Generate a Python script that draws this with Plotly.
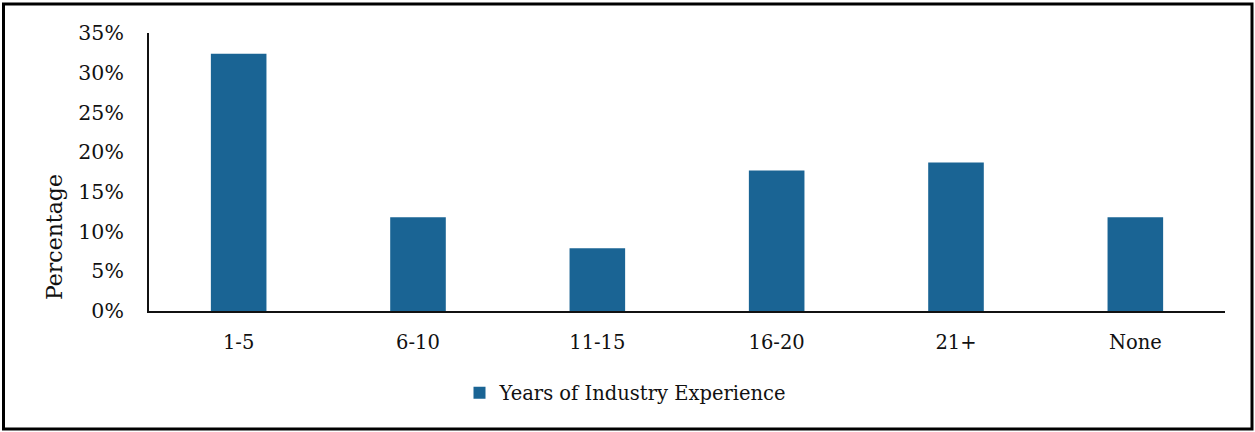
import plotly.graph_objects as go

# Share of respondents by years of industry experience
categories = ["1-5", "6-10", "11-15", "16-20", "21+", "None"]
percentages = [0.324, 0.118, 0.079, 0.177, 0.187, 0.118]
series_name = "Years of Industry Experience"
y_tickvals = [0, 0.05, 0.10, 0.15, 0.20, 0.25, 0.30, 0.35]

W, H = 1255, 432
ML, MR, MT, MB = 149, 30, 33, 121
PW, PH = W - ML - MR, H - MT - MB

FONT = "DejaVu Serif"
BAR = "#1a6494"
INK = "#111111"

fig = go.Figure(
    go.Bar(
        x=categories,
        y=percentages,
        name=series_name,
        marker=dict(color=BAR, line=dict(width=0)),
        showlegend=True,
    )
)


def px_x(p):
    return (p - ML) / PW


def px_y(p):
    return (H - MB - p) / PH


fig.update_layout(
    width=W,
    height=H,
    margin=dict(l=ML, r=MR, t=MT, b=MB),
    paper_bgcolor="white",
    plot_bgcolor="white",
    bargap=0.69,
    font=dict(family=FONT, size=19, color=INK),
    showlegend=True,
    legend=dict(
        orientation="h",
        x=px_x(626),
        xanchor="center",
        y=px_y(393),
        yanchor="middle",
        font=dict(family=FONT, size=19.5, color=INK),
        itemwidth=30,
    ),
    xaxis=dict(
        showline=True,
        linecolor=INK,
        linewidth=2,
        ticks="",
        showgrid=False,
        tickfont=dict(family=FONT, size=19.5, color=INK),
        ticklabelstandoff=13,
    ),
    yaxis=dict(
        range=[0, 0.35],
        tickvals=y_tickvals,
        tickformat=".0%",
        showline=True,
        linecolor=INK,
        linewidth=2,
        ticks="",
        showgrid=False,
        zeroline=False,
        tickfont=dict(family=FONT, size=20.5, color=INK),
        ticklabelstandoff=19,
    ),
    annotations=[
        dict(
            text="Percentage",
            xref="paper",
            yref="paper",
            x=px_x(54),
            y=px_y(237),
            xanchor="center",
            yanchor="middle",
            textangle=-90,
            showarrow=False,
            font=dict(family=FONT, size=22, color=INK),
        )
    ],
    shapes=[
        dict(
            type="rect",
            xref="paper",
            yref="paper",
            x0=px_x(3.5),
            x1=px_x(1252),
            y0=px_y(429),
            y1=px_y(4),
            line=dict(color="black", width=3),
            layer="above",
        )
    ],
)

fig.write_html("out.html")
